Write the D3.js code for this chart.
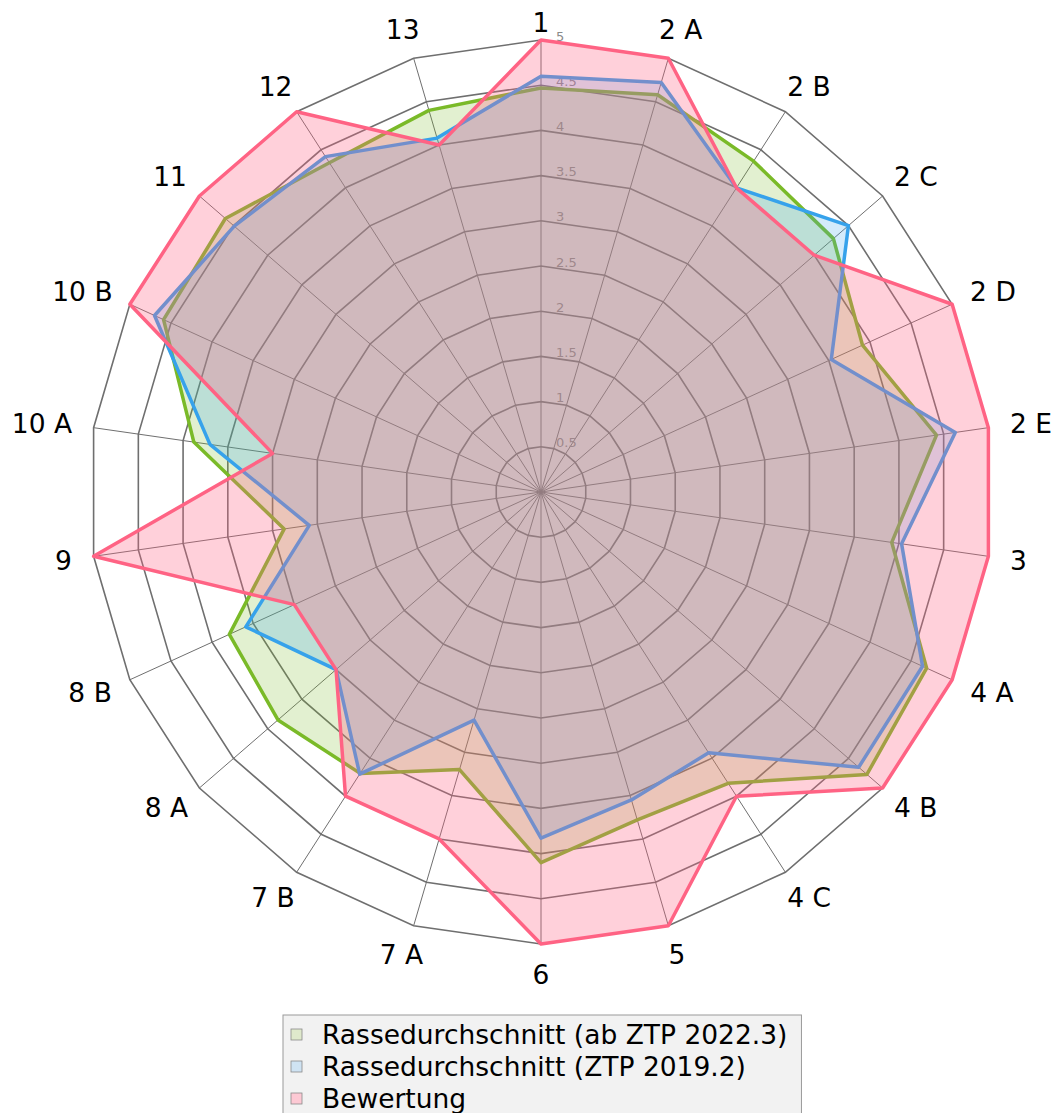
<!DOCTYPE html>
<html>
<head>
<meta charset="utf-8">
<script src="https://cdn.jsdelivr.net/npm/d3@7/dist/d3.min.js"></script>
<style>
  html, body { margin: 0; padding: 0; background: #ffffff; }
  svg { display: block; }
  text { font-family: "DejaVu Sans", sans-serif; }
</style>
</head>
<body>
<svg id="chart" width="1063" height="1113"></svg>
<script>
// ---- data ----
const categories = ["1","2 A","2 B","2 C","2 D","2 E","3","4 A","4 B","4 C","5","6","7 A","7 B","8 A","8 B","9","10 A","10 B","11","12","13"];
const seriesNames = ["Rassedurchschnitt (ab ZTP 2022.3)", "Rassedurchschnitt (ZTP 2019.2)", "Bewertung"];
const avg2022 = [4.47,4.58,4.35,4.28,3.91,4.42,3.92,4.69,4.77,3.83,3.78,4.10,3.20,3.70,3.85,3.79,2.87,3.88,4.59,4.62,4.33,4.40];
const avg2019 = [4.60,4.72,4.00,4.50,3.53,4.63,4.03,4.64,4.65,3.43,3.55,3.83,2.63,3.71,3.00,3.59,2.59,3.70,4.70,4.49,4.41,4.08];
const rating  = [5,5,4,4,5,5,5,5,5,4,5,5,4,4,3,3,5,3,5,5,5,4];
const tickValues = [0.5,1,1.5,2,2.5,3,3.5,4,4.5,5];
const tickLabels = ["0.5","1","1.5","2","2.5","3","3.5","4","4.5","5"];

// ---- styling ----
const strokeColors = ["rgb(122,186,40)", "rgb(54,162,235)", "rgb(255,99,132)"];
const fillColors   = ["rgba(122,186,40,0.22)", "rgba(54,162,235,0.22)", "rgba(255,99,132,0.3)"];
const legendFills  = ["#dfe9cc", "#cfe3f3", "#fdc9d4"];

const W = 1063, H = 1113;
const cx = 541, cy = 492, R = 452;
const svg = d3.select("#chart");
svg.append("rect").attr("width", W).attr("height", H).attr("fill", "#fff");

const r = d3.scaleLinear().domain([0, 5]).range([0, R]);
const n = categories.length;
const ang = d3.scaleLinear().domain([0, n]).range([0, 2 * Math.PI]);

const g = svg.append("g").attr("transform", `translate(${cx},${cy})`);

// grid rings
const ringLine = d3.lineRadial()
  .angle((d, i) => ang(i))
  .radius(d => r(d))
  .curve(d3.curveLinearClosed);

g.selectAll("path.ring").data(tickValues).enter().append("path")
  .attr("class", "ring")
  .attr("d", v => ringLine(categories.map(() => v)))
  .attr("fill", "none")
  .attr("stroke", "#6f6f6f")
  .attr("stroke-width", 1.6);

// radial axes
g.selectAll("line.spoke").data(categories).enter().append("line")
  .attr("class", "spoke")
  .attr("x1", 0).attr("y1", 0)
  .attr("x2", (d, i) => r(5) * Math.sin(ang(i)))
  .attr("y2", (d, i) => -r(5) * Math.cos(ang(i)))
  .attr("stroke", "#6f6f6f")
  .attr("stroke-width", 1);

// tick labels
g.selectAll("text.tick").data(tickValues).enter().append("text")
  .attr("class", "tick")
  .attr("x", 15)
  .attr("y", v => -r(v) - 3)
  .attr("dominant-baseline", "middle")
  .attr("font-size", 13)
  .attr("fill", "#8a8a8a")
  .text((v, i) => tickLabels[i]);

// series
const seriesData = [avg2022, avg2019, rating];
seriesData.forEach((vals, si) => {
  g.append("path")
    .attr("d", ringLine(vals))
    .attr("fill", fillColors[si])
    .attr("stroke", strokeColors[si])
    .attr("stroke-width", 3.5)
    .attr("stroke-linejoin", "round");
});

// category labels
const labelR = R + 22;
categories.forEach((c, i) => {
  const a = ang(i);
  const s = Math.sin(a), co = -Math.cos(a);
  const t = g.append("text")
    .attr("font-size", 26.5)
    .attr("fill", "#000")
    .attr("text-anchor", "middle")
    .attr("dominant-baseline", "central")
    .text(c);
  const w = t.node().getComputedTextLength();
  let x = labelR * s + s * w / 2;
  let y = labelR * co + co * 8;
  if (cy + y < 22) y = 22 - cy;
  t.attr("x", x).attr("y", y);
});

// legend
const lg = svg.append("g");
const lx = 283, ly = 1015, rowH = 32;
const box = lg.append("rect")
  .attr("x", lx).attr("y", ly)
  .attr("height", 140)
  .attr("fill", "#f2f2f2")
  .attr("stroke", "#9a9a9a")
  .attr("stroke-width", 1);
let maxW = 0;
seriesNames.forEach((name, i) => {
  const yc = ly + 19 + i * rowH;
  lg.append("rect")
    .attr("x", lx + 8).attr("y", yc - 5)
    .attr("width", 11).attr("height", 11)
    .attr("fill", legendFills[i])
    .attr("stroke", "#8a8a8a")
    .attr("stroke-width", 0.8);
  const t = lg.append("text")
    .attr("x", lx + 39).attr("y", yc)
    .attr("dominant-baseline", "central")
    .attr("font-size", 26.5)
    .attr("fill", "#000")
    .text(name);
  maxW = Math.max(maxW, t.node().getComputedTextLength());
});
box.attr("width", 39 + maxW + 14);
</script>
</body>
</html>
